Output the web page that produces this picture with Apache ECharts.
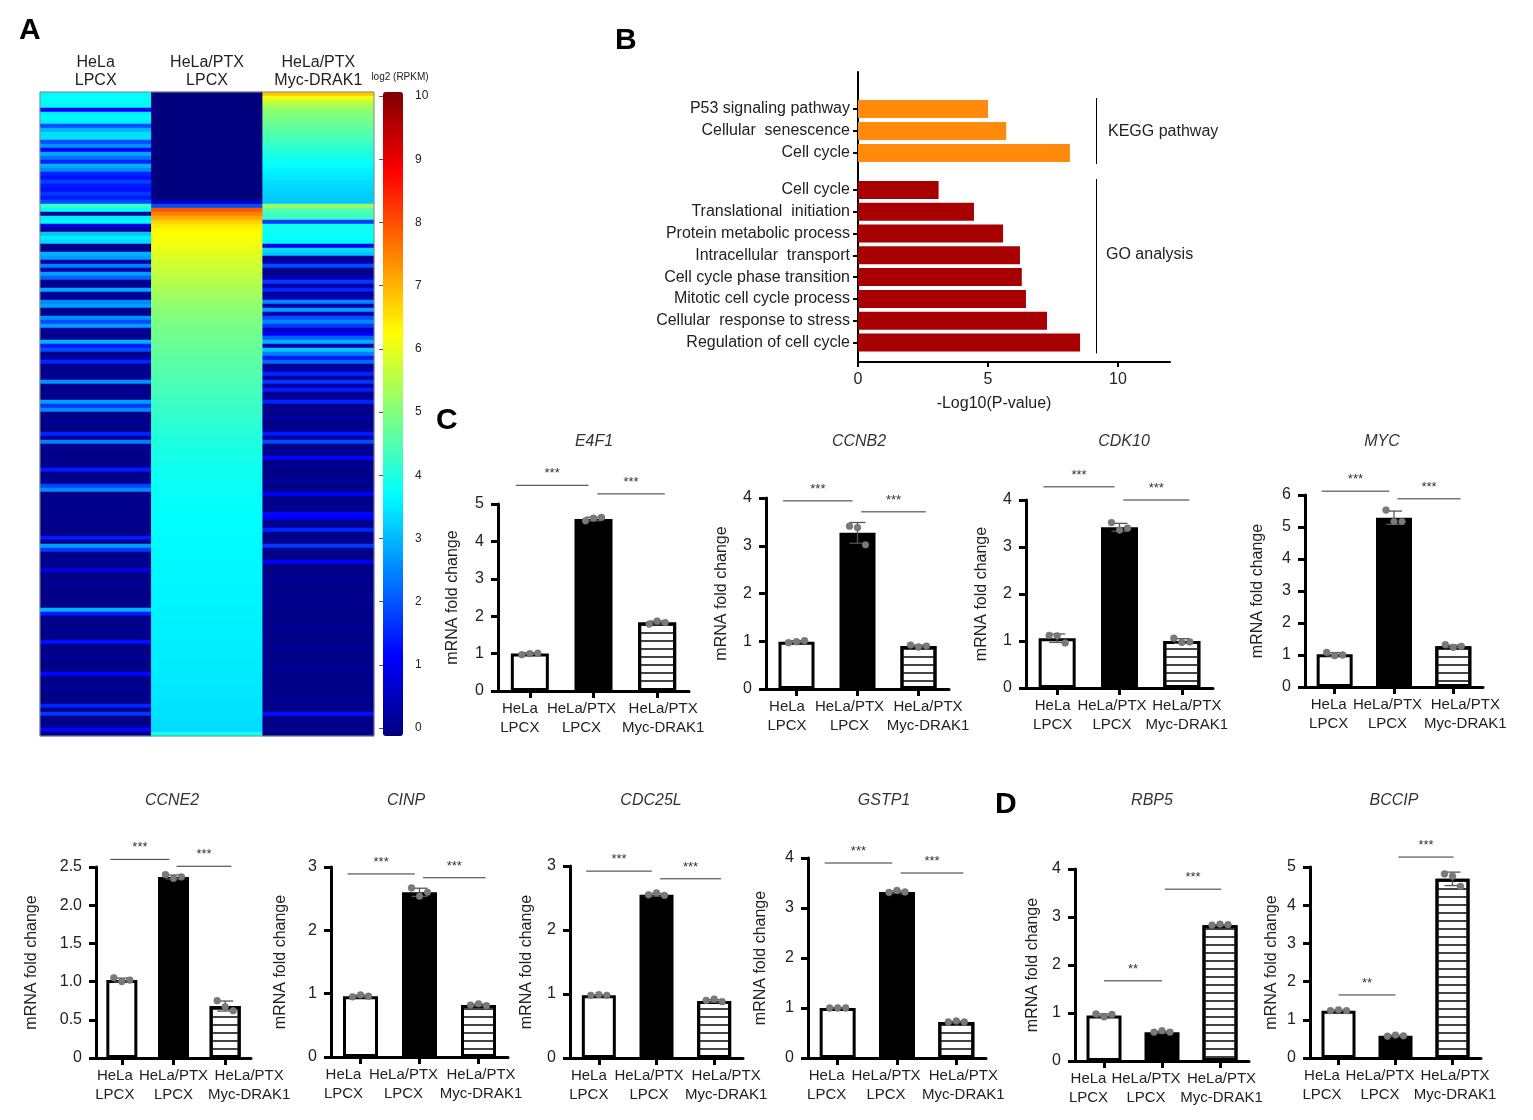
<!DOCTYPE html>
<html><head><meta charset="utf-8">
<script src="https://cdn.jsdelivr.net/npm/echarts@6/dist/echarts.min.js"></script>
<style>html,body{margin:0;padding:0;background:#fff}#chart{width:1533px;height:1120px}</style>
</head><body><div id="chart"></div>
<script>
// ---------------- Panel A: heatmap (log2 RPKM), one value per row, top to bottom ----------------
const heatColumns = ['HeLa\nLPCX', 'HeLa/PTX\nLPCX', 'HeLa/PTX\nMyc-DRAK1'];
const heatHeLaLPCX = [
 3.7,3.8,3.7,3.7,1.2,3.6,3.7,3.6,2.0,3.0,
 3.4,3.5,2.0,2.7,1.2,2.9,2.4,1.6,3.0,2.6,
 1.6,1.4,1.9,1.5,1.4,1.8,1.5,2.0,4.3,3.8,
 0.2,3.6,3.7,1.0,0.2,3.2,3.6,3.4,0.1,0.2,
 3.0,2.8,0.3,2.5,0.4,2.8,2.2,0.1,0.2,2.9,
 0.3,0.1,2.6,2.8,0.1,0.2,2.7,2.0,2.8,0.3,
 0.1,0.2,3.0,1.5,2.0,0.1,0.3,1.6,0.1,0.1,
 0.2,0.2,2.7,0.1,0.1,0.2,0.1,2.8,1.8,2.6,
 0.1,0.1,0.2,0.1,0.1,1.6,0.2,2.5,0.1,0.2,
 0.1,0.1,0.1,0.2,1.5,0.1,0.1,0.2,1.9,2.6,
 0.1,0.1,0.2,0.1,0.1,0.1,0.2,0.1,0.1,0.1,
 0.1,1.5,0.1,2.8,1.8,0.1,0.1,0.2,0.1,1.0,
 0.1,0.1,0.1,0.2,0.1,0.1,0.1,0.1,0.1,3.0,
 1.5,0.1,0.1,0.1,0.2,0.1,0.1,1.4,0.1,0.1,
 0.1,0.2,0.1,0.1,0.1,1.3,0.1,0.1,0.1,0.2,
 0.1,0.1,0.1,1.6,0.1,1.8,0.1,0.1,0.2,1.3,
 0.1];
const heatPTXLPCX = [
 0,0,0,0,0,0,0,0,0,0,
 0,0,0,0,0,0,0,0,0,0,
 0,0,0,0,0,0,0,0.6,2.0,7.9,
 7.5,7.1,6.7,6.45,6.3,6.25,6.2,6.15,6.1,6.0,
 5.95,5.88,5.82,5.76,5.7,5.64,5.58,5.52,5.46,5.4,
 5.34,5.28,5.22,5.16,5.11,5.06,5.01,4.97,4.93,4.89,
 4.86,4.83,4.8,4.77,4.74,4.71,4.68,4.65,4.62,4.59,
 4.56,4.53,4.5,4.47,4.44,4.41,4.38,4.35,4.32,4.29,
 4.26,4.23,4.2,4.17,4.14,4.11,4.08,4.05,4.02,4.0,
 3.98,3.96,3.94,3.92,3.9,3.88,3.86,3.85,3.84,3.83,
 3.82,3.81,3.8,3.79,3.78,3.77,3.76,3.75,3.74,3.74,
 3.73,3.73,3.72,3.72,3.71,3.71,3.7,3.7,3.69,3.69,
 3.68,3.68,3.67,3.67,3.66,3.66,3.65,3.65,3.64,3.64,
 3.63,3.63,3.62,3.62,3.61,3.61,3.6,3.6,3.59,3.59,
 3.58,3.58,3.57,3.57,3.56,3.56,3.55,3.55,3.54,3.53,
 3.52,3.51,3.5,3.49,3.48,3.47,3.45,3.43,3.41,3.39,
 3.85];
const heatPTXDRAK1 = [
 6.8,6.1,5.7,5.4,5.2,5.05,4.95,4.85,4.75,4.65,
 4.55,4.45,4.35,4.25,4.15,4.05,3.95,3.85,3.75,3.65,
 3.58,3.52,3.46,3.4,3.35,3.3,3.25,3.2,5.3,4.6,
 4.4,4.3,1.8,3.9,3.9,3.8,3.8,3.7,1.0,3.4,
 3.2,0.2,0.4,2.0,0.1,0.2,0.5,1.8,0.4,1.6,
 0.2,0.6,2.6,0.4,2.8,0.5,2.0,2.6,1.8,0.6,
 1.2,2.2,3.0,0.5,3.2,2.5,1.5,2.3,0.2,0.4,
 1.6,0.3,1.8,0.3,1.5,0.1,0.3,1.6,0.1,0.2,
 0.1,0.3,0.1,0.1,0.2,1.5,0.3,2.0,0.1,0.2,
 0.1,1.3,0.1,0.2,0.1,0.1,0.1,0.2,0.1,0.1,
 1.2,0.1,0.1,0.2,0.1,1.3,1.2,0.1,0.2,1.6,
 0.1,0.1,0.2,1.8,0.1,0.1,0.1,1.2,0.1,0.1,
 0.1,0.2,0.1,0.1,0.1,0.1,0.2,0.1,0.1,0.1,
 0.1,0.1,0.1,0.2,0.1,0.1,0.1,0.1,0.1,0.2,
 0.1,0.1,0.1,0.1,0.2,0.1,0.1,0.1,0.1,0.1,
 0.1,0.1,0.2,0.1,0.1,1.4,0.1,0.1,0.1,0.1,
 0.1];
const colorbarRange = [0, 10];

// ---------------- Panel B: enrichment ----------------
const keggTerms = ['P53 signaling pathway', 'Cellular  senescence', 'Cell cycle'];
const keggValues = [5.0, 5.7, 8.15];
const goTerms = ['Cell cycle', 'Translational  initiation', 'Protein metabolic process', 'Intracellular  transport',
  'Cell cycle phase transition', 'Mitotic cell cycle process', 'Cellular  response to stress', 'Regulation of cell cycle'];
const goValues = [3.1, 4.46, 5.58, 6.23, 6.3, 6.46, 7.27, 8.54];
const enrichTicks = [0, 5, 10];
const enrichAxisMax = 12;
const bracketAt = 9.15;

// ---------------- Panels C / D: qPCR ----------------
const qpcrGroups = ['HeLa\nLPCX', 'HeLa/PTX\nLPCX', 'HeLa/PTX\nMyc-DRAK1'];

const e4f1Mean = [1.0, 4.6, 1.83];
const e4f1Reps = [[0.97, 1.0, 1.01], [4.55, 4.62, 4.64], [1.79, 1.87, 1.83]];
const e4f1Ticks = [0, 1, 2, 3, 4, 5];
const e4f1Sig = [[0, 1, 5.5, '***'], [1, 2, 5.27, '***']];

const ccnb2Mean = [0.99, 3.27, 0.9];
const ccnb2Reps = [[0.97, 0.99, 1.01], [3.41, 3.38, 3.02], [0.92, 0.88, 0.9]];
const ccnb2Ticks = [0, 1, 2, 3, 4];
const ccnb2Sig = [[0, 1, 3.94, '***'], [1, 2, 3.71, '***']];

const cdk10Mean = [1.06, 3.42, 1.0];
const cdk10Reps = [[1.12, 1.11, 0.96], [3.52, 3.36, 3.4], [1.06, 0.97, 0.98]];
const cdk10Ticks = [0, 1, 2, 3, 4];
const cdk10Sig = [[0, 1, 4.28, '***'], [1, 2, 4.0, '***']];

const mycMean = [1.02, 5.29, 1.27];
const mycReps = [[1.08, 0.98, 1.0], [5.53, 5.17, 5.17], [1.32, 1.24, 1.27]];
const mycTicks = [0, 1, 2, 3, 4, 5, 6];
const mycSig = [[0, 1, 6.12, '***'], [1, 2, 5.88, '***']];

const ccne2Mean = [1.02, 2.37, 0.68];
const ccne2Reps = [[1.05, 1.0, 1.02], [2.4, 2.35, 2.37], [0.75, 0.67, 0.62]];
const ccne2Ticks = [0, 0.5, 1.0, 1.5, 2.0, 2.5];
const ccne2Sig = [[0, 1, 2.6, '***'], [1, 2, 2.51, '***']];

const cinpMean = [0.96, 2.6, 0.82];
const cinpReps = [[0.95, 0.98, 0.96], [2.67, 2.54, 2.6], [0.82, 0.84, 0.81]];
const cinpTicks = [0, 1, 2, 3];
const cinpSig = [[0, 1, 2.89, '***'], [1, 2, 2.83, '***']];

const cdc25lMean = [0.98, 2.55, 0.89];
const cdc25lReps = [[0.98, 0.99, 0.98], [2.55, 2.58, 2.54], [0.9, 0.92, 0.88]];
const cdc25lTicks = [0, 1, 2, 3];
const cdc25lSig = [[0, 1, 2.92, '***'], [1, 2, 2.8, '***']];

const gstp1Mean = [1.0, 3.32, 0.72];
const gstp1Reps = [[1.0, 1.0, 1.0], [3.31, 3.35, 3.32], [0.72, 0.74, 0.72]];
const gstp1Ticks = [0, 1, 2, 3, 4];
const gstp1Sig = [[0, 1, 3.9, '***'], [1, 2, 3.7, '***']];

const rbp5Mean = [0.95, 0.6, 2.83];
const rbp5Reps = [[0.98, 0.92, 0.97], [0.6, 0.63, 0.6], [2.83, 2.85, 2.84]];
const rbp5Ticks = [0, 1, 2, 3, 4];
const rbp5Sig = [[0, 1, 1.67, '**'], [1, 2, 3.58, '***']];

const bccipMean = [1.24, 0.58, 4.69];
const bccipReps = [[1.24, 1.26, 1.24], [0.57, 0.6, 0.58], [4.82, 4.76, 4.49]];
const bccipTicks = [0, 1, 2, 3, 4, 5];
const bccipSig = [[0, 1, 1.65, '**'], [1, 2, 5.26, '***']];

// ---------------- assembly ----------------
const qpcr = [
  {name: 'E4F1', mean: e4f1Mean, reps: e4f1Reps, ticks: e4f1Ticks, sig: e4f1Sig},
  {name: 'CCNB2', mean: ccnb2Mean, reps: ccnb2Reps, ticks: ccnb2Ticks, sig: ccnb2Sig},
  {name: 'CDK10', mean: cdk10Mean, reps: cdk10Reps, ticks: cdk10Ticks, sig: cdk10Sig},
  {name: 'MYC', mean: mycMean, reps: mycReps, ticks: mycTicks, sig: mycSig},
  {name: 'CCNE2', mean: ccne2Mean, reps: ccne2Reps, ticks: ccne2Ticks, sig: ccne2Sig},
  {name: 'CINP', mean: cinpMean, reps: cinpReps, ticks: cinpTicks, sig: cinpSig},
  {name: 'CDC25L', mean: cdc25lMean, reps: cdc25lReps, ticks: cdc25lTicks, sig: cdc25lSig},
  {name: 'GSTP1', mean: gstp1Mean, reps: gstp1Reps, ticks: gstp1Ticks, sig: gstp1Sig},
  {name: 'RBP5', mean: rbp5Mean, reps: rbp5Reps, ticks: rbp5Ticks, sig: rbp5Sig},
  {name: 'BCCIP', mean: bccipMean, reps: bccipReps, ticks: bccipTicks, sig: bccipSig}
];
const SIG_C = [[-0.22, -0.08], [0.06, 0.12]], SIG_D = [[0, 0], [0.05, 0.02]];
const qpcrLayout = [
  {left: 498, right: 689, top: 504, bottom: 691, barW: 38, nameGap: 37, titleX: 594, titleY: 442, sig: SIG_C, shift: [-10, -12, 6]},
  {left: 766, right: 949, top: 498, bottom: 689, barW: 36, nameGap: 36, titleX: 859, titleY: 442, sig: SIG_C, shift: [-9.5, -8, 9.5]},
  {left: 1026, right: 1213, top: 500, bottom: 688, barW: 37, nameGap: 36, titleX: 1124, titleY: 442, sig: SIG_C, shift: [-4.5, -7.5, 5]},
  {left: 1305, right: 1483, top: 495, bottom: 687, barW: 36, nameGap: 39, titleX: 1382, titleY: 442, sig: SIG_C, shift: [-6, -6.5, 12]},
  {left: 96, right: 251, top: 867, bottom: 1058, barW: 31, nameGap: 56, titleX: 172, titleY: 801, sig: SIG_C, shift: [-7, 0, 24]},
  {left: 331, right: 508, top: 867, bottom: 1057, barW: 35, nameGap: 42, titleX: 406, titleY: 801, sig: SIG_C, shift: [-17, -16, 2.5]},
  {left: 570, right: 743, top: 866, bottom: 1058, barW: 34, nameGap: 35, titleX: 651, titleY: 801, sig: SIG_C, shift: [-10, -7.5, 12]},
  {left: 808, right: 986, top: 858, bottom: 1058, barW: 36, nameGap: 39, titleX: 884, titleY: 801, sig: SIG_C, shift: [-11, -11, 7]},
  {left: 1075, right: 1249, top: 869, bottom: 1061, barW: 35, nameGap: 34, titleX: 1152, titleY: 801, sig: SIG_D, shift: [-15.5, -16, 1.5]},
  {left: 1310, right: 1481, top: 867, bottom: 1058, barW: 34, nameGap: 30, titleX: 1394, titleY: 801, sig: SIG_D, shift: [-16.5, -15.5, 2.5]}
];

const FONT = 'Liberation Sans';
const JET = ['#00007F', '#0000FF', '#007FFF', '#00FFFF', '#7FFF7F', '#FFFF00', '#FF7F00', '#FF0000', '#7F0000'];
const grids = [], xAxes = [], yAxes = [], series = [], graphics = [];

function txt(t, x, y, font, align, color) {
  return {type: 'text', x: x, y: y, silent: true, z: 10,
    style: {text: t, font: font, fill: color || '#000', textAlign: align || 'left', textVerticalAlign: 'middle'}};
}

// Panel A grid
const nRows = heatHeLaLPCX.length;
const rowNames = heatHeLaLPCX.map((v, i) => String(i));
const heatData = [];
for (let r = 0; r < nRows; r++) {
  heatData.push([0, r, heatHeLaLPCX[r]], [1, r, heatPTXLPCX[r]], [2, r, heatPTXDRAK1[r]]);
}
grids.push({left: 40, top: 92, width: 334, height: 644, show: true, borderColor: '#8a8a8a', borderWidth: 1, z: 3});
xAxes.push({gridIndex: 0, type: 'category', data: heatColumns, position: 'top',
  axisLine: {show: false}, axisTick: {show: false}, splitLine: {show: false},
  axisLabel: {interval: 0, fontSize: 16, lineHeight: 18, color: '#222', margin: 2, fontFamily: FONT}});
yAxes.push({gridIndex: 0, type: 'category', data: rowNames, inverse: true, show: false});
series.push({type: 'heatmap', xAxisIndex: 0, yAxisIndex: 0, data: heatData, emphasis: {disabled: true}, silent: true});

// colourbar labels
grids.push({left: 383, top: 96, width: 20, height: 632});
xAxes.push({gridIndex: 1, type: 'value', show: false});
yAxes.push({gridIndex: 1, type: 'value', min: colorbarRange[0], max: colorbarRange[1], interval: 1, position: 'right',
  axisLine: {show: false}, splitLine: {show: false},
  axisTick: {show: true, inside: true, length: 4, lineStyle: {color: '#555', width: 1}},
  axisLabel: {fontSize: 12, color: '#222', margin: 12, fontFamily: FONT}});
graphics.push(txt('log2 (RPKM)', 400, 77, '10px "Liberation Sans"', 'center', '#222'));

// Panel B axes frame
grids.push({left: 858, top: 72, width: 312, height: 290});
xAxes.push({gridIndex: 2, type: 'value', min: 0, max: enrichAxisMax,
  axisLine: {show: true, lineStyle: {color: '#000', width: 2}},
  axisTick: {show: true, customValues: enrichTicks, length: 5, lineStyle: {color: '#000', width: 2}},
  axisLabel: {customValues: enrichTicks, fontSize: 16, color: '#222', margin: 10, fontFamily: FONT},
  splitLine: {show: false},
  name: '-Log10(P-value)', nameLocation: 'middle', nameGap: 34,
  nameTextStyle: {fontSize: 16, color: '#222', fontFamily: FONT, padding: [0, 40, 0, 0]}});
yAxes.push({gridIndex: 2, type: 'value', min: 0, max: 1,
  axisLine: {show: true, lineStyle: {color: '#000', width: 2}}, axisTick: {show: false}, axisLabel: {show: false}, splitLine: {show: false}});

function bCatAxis(gi, terms) {
  return {gridIndex: gi, type: 'category', data: terms, inverse: true,
    axisLine: {show: false}, splitLine: {show: false},
    axisTick: {show: true, alignWithLabel: true, length: 5, lineStyle: {color: '#000', width: 2}},
    axisLabel: {interval: 0, fontSize: 16, color: '#222', margin: 8, fontFamily: FONT}};
}
grids.push({left: 858, top: 98, width: 312, height: 66});
xAxes.push({gridIndex: 3, type: 'value', min: 0, max: enrichAxisMax, show: false});
yAxes.push(bCatAxis(3, keggTerms));
grids.push({left: 858, top: 179, width: 312, height: 174.4});
xAxes.push({gridIndex: 4, type: 'value', min: 0, max: enrichAxisMax, show: false});
yAxes.push(bCatAxis(4, goTerms));
const bracket = {silent: true, symbol: 'none', label: {show: false}, lineStyle: {color: '#000', width: 1, type: 'solid'}, data: [{xAxis: bracketAt}]};
series.push({type: 'bar', xAxisIndex: 3, yAxisIndex: 3, data: keggValues, barWidth: 18, itemStyle: {color: '#FF8A0C'}, markLine: bracket, silent: true});
series.push({type: 'bar', xAxisIndex: 4, yAxisIndex: 4, data: goValues, barWidth: 18, itemStyle: {color: '#A80000'}, markLine: bracket, silent: true});
graphics.push(txt('KEGG pathway', 1108, 132, '16px "Liberation Sans"', 'left', '#222'));
graphics.push(txt('GO analysis', 1106, 255, '16px "Liberation Sans"', 'left', '#222'));

// Panels C / D
function sd(a) { const m = a.reduce((s, v) => s + v, 0) / a.length; return Math.sqrt(a.reduce((s, v) => s + (v - m) * (v - m), 0) / (a.length - 1)); }
const barStyles = [
  {color: '#fff', borderColor: '#000', borderWidth: 3},
  {color: '#000', borderColor: '#000', borderWidth: 3},
  {color: '#fff', borderColor: '#000', borderWidth: 3,
    decal: {symbol: 'rect', symbolSize: 1, color: '#444', dashArrayX: [1, 0], dashArrayY: [2, 5.3], rotation: 0}}
];
function shiftStyle(s) { return s < 0 ? {padding: [0, -2 * s, 0, 0]} : {padding: [0, 0, 0, 2 * s]}; }
qpcr.forEach((g, k) => {
  const L = qpcrLayout[k];
  const gi = 5 + k;
  const step = g.ticks[1] - g.ticks[0];
  grids.push({left: L.left, top: L.top, width: L.right - L.left, height: L.bottom - L.top});
  xAxes.push({gridIndex: gi, type: 'category',
    data: qpcrGroups.map((c, i) => ({value: c, textStyle: shiftStyle(L.shift[i])})),
    axisLine: {show: true, lineStyle: {color: '#000', width: 3}},
    axisTick: {show: true, alignWithLabel: true, length: 7, lineStyle: {color: '#000', width: 3}},
    axisLabel: {interval: 0, fontSize: 15, lineHeight: 19, color: '#222', margin: 8, fontFamily: FONT},
    splitLine: {show: false}});
  yAxes.push({gridIndex: gi, type: 'value', min: g.ticks[0], max: g.ticks[g.ticks.length - 1], interval: step,
    axisLine: {show: true, lineStyle: {color: '#000', width: 3}},
    axisTick: {show: true, length: 7, lineStyle: {color: '#000', width: 3}},
    axisLabel: {fontSize: 16, color: '#222', margin: 14, fontFamily: FONT,
      formatter: v => Number.isInteger(step) ? String(v) : (v === 0 ? '0' : v.toFixed(1))},
    splitLine: {show: false},
    name: 'mRNA fold change', nameLocation: 'middle', nameGap: L.nameGap,
    nameTextStyle: {fontSize: 16, color: '#222', fontFamily: FONT}});
  series.push({type: 'bar', xAxisIndex: gi, yAxisIndex: gi, barWidth: L.barW, silent: true, z: 2,
    data: g.mean.map((v, i) => ({value: v, itemStyle: barStyles[i]}))});
  const errData = g.reps.map((r, i) => { const s = sd(r); return [i, g.mean[i] - s, g.mean[i] + s, r[0], r[1], r[2]]; });
  series.push({type: 'custom', xAxisIndex: gi, yAxisIndex: gi, silent: true, z: 5, clip: false, data: errData,
    renderItem: function (params, api) {
      const i = api.value(0);
      const pLo = api.coord([i, api.value(1)]), pHi = api.coord([i, api.value(2)]);
      const x = pLo[0], cap = 8, ls = {stroke: '#555', lineWidth: 1.3};
      const ch = [
        {type: 'line', shape: {x1: x, y1: pLo[1], x2: x, y2: pHi[1]}, style: ls},
        {type: 'line', shape: {x1: x - cap, y1: pHi[1], x2: x + cap, y2: pHi[1]}, style: ls},
        {type: 'line', shape: {x1: x - cap, y1: pLo[1], x2: x + cap, y2: pLo[1]}, style: ls}
      ];
      for (let d = 0; d < 3; d++) {
        const p = api.coord([i, api.value(3 + d)]);
        ch.push({type: 'circle', shape: {cx: x + (d - 1) * 8, cy: p[1], r: 3.4}, style: {fill: '#7a7a7a', stroke: '#666', lineWidth: 0.5}});
      }
      return {type: 'group', children: ch};
    }});
  const sigData = g.sig.map(s => [s[0], s[1], s[2]]);
  series.push({type: 'custom', xAxisIndex: gi, yAxisIndex: gi, silent: true, z: 5, clip: false, data: sigData,
    renderItem: function (params, api) {
      const a = api.value(0), b = api.value(1), y = api.value(2);
      const band = api.size([1, 0])[0];
      const off = L.sig[params.dataIndex];
      const p1 = api.coord([a, y]), p2 = api.coord([b, y]);
      const x1 = p1[0] + off[0] * band, x2 = p2[0] + off[1] * band;
      return {type: 'group', children: [
        {type: 'line', shape: {x1: x1, y1: p1[1], x2: x2, y2: p1[1]}, style: {stroke: '#333', lineWidth: 1}},
        {type: 'text', x: (x1 + x2) / 2, y: p1[1] - 5,
          style: {text: g.sig[params.dataIndex][3], font: '13px "Liberation Sans"', fill: '#333', textAlign: 'center', textVerticalAlign: 'bottom'}}
      ]};
    }});
  graphics.push(txt(g.name, L.titleX, L.titleY, 'italic 16px "Liberation Sans"', 'center', '#333'));
});

graphics.push(txt('A', 19, 31, 'bold 30px "Liberation Sans"', 'left'));
graphics.push(txt('B', 615, 41, 'bold 30px "Liberation Sans"', 'left'));
graphics.push(txt('C', 436, 421, 'bold 30px "Liberation Sans"', 'left'));
graphics.push(txt('D', 995, 805, 'bold 30px "Liberation Sans"', 'left'));

const chart = echarts.init(document.getElementById('chart'), null, {renderer: 'canvas'});
chart.setOption({
  backgroundColor: '#fff',
  animation: false,
  textStyle: {fontFamily: FONT},
  grid: grids, xAxis: xAxes, yAxis: yAxes, series: series,
  visualMap: [{type: 'continuous', seriesIndex: 0, min: colorbarRange[0], max: colorbarRange[1],
    left: 383, top: 92, itemWidth: 20, itemHeight: 644, calculable: false, hoverLink: false,
    padding: 0, text: null, inRange: {color: JET}}],
  graphic: graphics
});
</script></body></html>
